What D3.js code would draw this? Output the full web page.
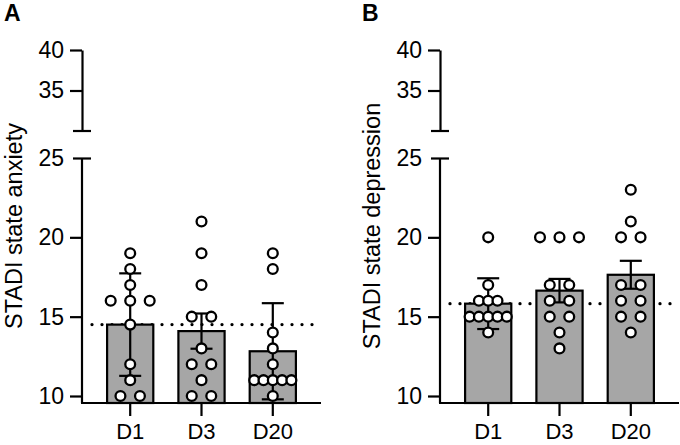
<!DOCTYPE html>
<html>
<head>
<meta charset="utf-8">
<script src="https://cdn.jsdelivr.net/npm/d3@7"></script>
<style>
  body { margin: 0; background: #fff; }
  svg { font-family: "Liberation Sans", Arial, sans-serif; }
</style>
</head>
<body>
<div class="C"></div>
<script>
// days
var categories = ['D1', 'D3', 'D20'];

// STADI state anxiety, single scores
var anxD1 = [19, 18, 17, 16, 16, 16, 14.5, 12, 11, 10, 10];
var anxD3 = [21, 19, 17, 15, 15, 13, 12, 12, 11, 10, 10];
var anxD20 = [19, 18, 14, 13, 12, 11, 11, 11, 11, 11, 10];
var anxMean = [14.5, 14.09, 12.82];
var anxErr = [3.23, 1.11, 3.03];
var anxRef = 14.5;

// STADI state depression, single scores
var depD1 = [20, 17, 16, 16, 16, 15, 15, 15, 15, 15, 14];
var depD3 = [20, 20, 20, 17, 17, 16, 16, 15, 15, 14, 13];
var depD20 = [23, 21, 20, 20, 17, 17, 16, 16, 15, 15, 14];
var depMean = [15.82, 16.64, 17.64];
var depErr = [1.6, 0.74, 0.88];
var depRef = 15.82;

var upperTicks = [35, 40];
var lowerTicks = [10, 15, 20, 25];

var svg = d3.select('.C').append('svg').attr('width', 680).attr('height', 445);

function panel(letter, x0, title, points, means, errs, ref) {
    var g = svg.append('g');
    var axisY = 403;
    var yUp = d3.scaleLinear().domain([30, 40]).range([131, 50]);
    var yLow = d3.scaleLinear().domain([10, 25]).range([396, 158]);
    var x = d3.scaleBand().domain(categories).range([x0, x0 + 239])
        .paddingInner(0.352).paddingOuter(0.352);

    g.append('text').text(letter).attr('x', x0 - 78).attr('y', 21)
        .style('font-size', '23px').style('font-weight', 'bold');

    g.append('text').text(title)
        .attr('transform', 'translate(' + (x0 - 60) + ',226) rotate(-90)')
        .attr('text-anchor', 'middle').style('font-size', '23.5px');

    // dotted reference line (behind bars)
    g.append('line').attr('x1', x0 + 10).attr('x2', x0 + 239)
        .attr('y1', yLow(ref)).attr('y2', yLow(ref))
        .attr('stroke', '#000').attr('stroke-width', 3.3)
        .attr('stroke-linecap', 'round').attr('stroke-dasharray', '0,10');

    // bars
    g.selectAll('.bar').data(means).enter().append('rect')
        .attr('class', 'bar')
        .attr('x', function (d, i) { return x(categories[i]); })
        .attr('width', x.bandwidth())
        .attr('y', function (d) { return yLow(d); })
        .attr('height', function (d) { return axisY - yLow(d); })
        .attr('fill', '#a6a6a6').attr('stroke', '#000').attr('stroke-width', 2.2);

    // error bars
    var eb = g.selectAll('.err').data(means).enter().append('g').attr('class', 'err')
        .attr('transform', function (d, i) { return 'translate(' + (x(categories[i]) + x.bandwidth() / 2) + ',0)'; });
    eb.append('line').attr('y1', function (d, i) { return yLow(d - errs[i]); })
        .attr('y2', function (d, i) { return yLow(d + errs[i]); })
        .attr('stroke', '#000').attr('stroke-width', 2.2);
    eb.append('line').attr('x1', -11).attr('x2', 11)
        .attr('y1', function (d, i) { return yLow(d + errs[i]); })
        .attr('y2', function (d, i) { return yLow(d + errs[i]); })
        .attr('stroke', '#000').attr('stroke-width', 2.2);
    eb.append('line').attr('x1', -11).attr('x2', 11)
        .attr('y1', function (d, i) { return yLow(d - errs[i]); })
        .attr('y2', function (d, i) { return yLow(d - errs[i]); })
        .attr('stroke', '#000').attr('stroke-width', 2.2);

    // scatter points, spread sideways when values repeat
    points.forEach(function (vals, i) {
        var counts = d3.rollup(vals, function (v) { return v.length; }, function (v) { return v; });
        var gap = d3.max(Array.from(counts.values())) >= 4 ? 9.3 : 19.5;
        var seen = new Map();
        var cx = x(categories[i]) + x.bandwidth() / 2;
        var pts = vals.map(function (v) {
            var n = counts.get(v), k = seen.get(v) || 0;
            seen.set(v, k + 1);
            return { v: v, dx: (k - (n - 1) / 2) * gap };
        });
        g.selectAll('.pt' + i).data(pts).enter().append('circle')
            .attr('cx', function (d) { return cx + d.dx; })
            .attr('cy', function (d) { return yLow(d.v); })
            .attr('r', 4.9)
            .attr('fill', '#fff').attr('stroke', '#000').attr('stroke-width', 2.3);
    });

    // y axis, two segments
    var up = g.append('g').attr('transform', 'translate(' + x0 + ',0)')
        .call(d3.axisLeft(yUp).tickValues(upperTicks).tickSize(12).tickSizeOuter(0).tickPadding(6));
    var low = g.append('g').attr('transform', 'translate(' + x0 + ',0)')
        .call(d3.axisLeft(yLow).tickValues(lowerTicks).tickSize(12).tickSizeOuter(0).tickPadding(6));
    low.select('.domain').attr('d', 'M0,' + yLow(25) + 'V' + axisY);
    low.selectAll('.tick').filter(function (d) { return d === 25; })
        .select('line').attr('x1', -9).attr('x2', 9);
    up.append('line').attr('x1', -9).attr('x2', 9).attr('y1', yUp(30)).attr('y2', yUp(30))
        .attr('stroke', '#000').attr('stroke-width', 2);
    [up, low].forEach(function (a) {
        a.selectAll('path, line').attr('stroke', '#000').attr('stroke-width', 2.2);
        a.selectAll('text').style('font-size', '23px').attr('fill', '#000');
    });

    // x axis
    var xa = g.append('g').attr('transform', 'translate(0,' + axisY + ')')
        .call(d3.axisBottom(x).tickSize(13).tickSizeOuter(0).tickPadding(7));
    xa.select('.domain').attr('d', 'M' + (x0 - 1) + ',0H' + (x0 + 239));
    xa.selectAll('path, line').attr('stroke', '#000').attr('stroke-width', 2.2);
    xa.selectAll('text').style('font-size', '22px').attr('fill', '#000');
}

panel('A', 82, 'STADI state anxiety', [anxD1, anxD3, anxD20], anxMean, anxErr, anxRef);
panel('B', 440, 'STADI state depression', [depD1, depD3, depD20], depMean, depErr, depRef);
</script>
</body>
</html>
